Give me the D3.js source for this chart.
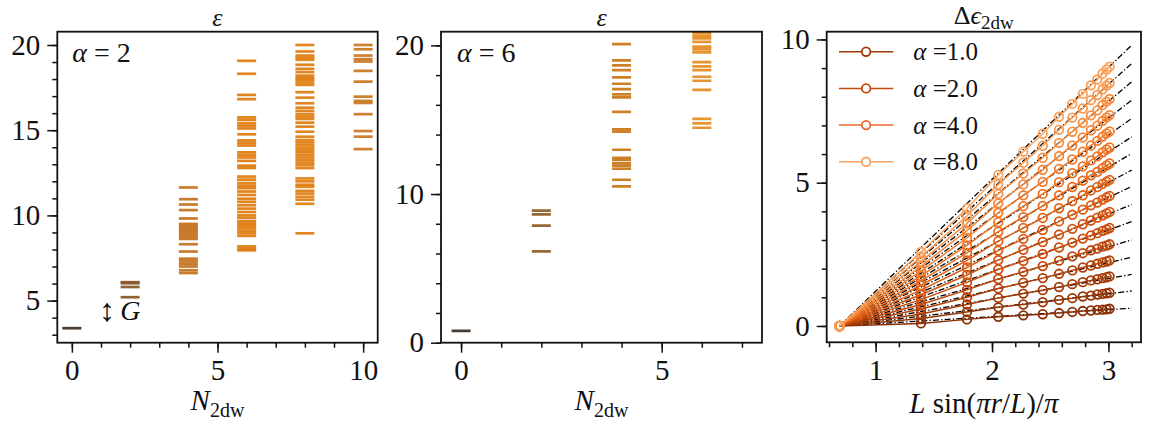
<!DOCTYPE html>
<html>
<head>
<meta charset="utf-8">
<script src="https://cdnjs.cloudflare.com/ajax/libs/d3/7.8.5/d3.min.js"></script>
<style>
  body { margin: 0; background: #fff; }
  svg text { font-family: "Liberation Serif", "DejaVu Serif", serif; fill: #111; }
  .axis path { display: none; }
  .axis line { stroke: #111; stroke-width: 1.5; }
  .frame { fill: none; stroke: #111; stroke-width: 1.8; }
</style>
</head>
<body>
<svg id="chart" width="1151" height="427"></svg>
<script>
// ---- panel 1 : spectrum for alpha = 2, levels per domain-wall sector ----
var a2Sectors = [0, 2, 4, 6, 8, 10];
var a2n0 = [3.38];
var a2n2 = [6.08, 6.02, 5.80, 5.20];
var a2n4 = [11.64, 10.95, 10.64, 10.31, 9.82, 9.50, 9.38, 9.25, 9.12, 9.00, 8.88, 8.75, 8.62,
            8.31, 7.88, 7.46, 7.30, 7.15, 7.00, 6.78, 6.62];
var a2n6 = [19.07, 18.31, 17.07, 16.82, 15.75, 15.60, 15.40, 15.25, 15.10, 14.76, 14.40, 14.25,
            14.10, 13.70, 13.55, 13.40, 13.20, 12.92, 12.78, 12.28, 12.10, 11.90, 11.75, 11.60,
            11.40, 11.20, 10.98, 10.80, 10.60, 10.40, 10.20, 10.00, 9.85, 9.65, 9.52, 9.40, 9.25,
            9.10, 8.95, 8.80, 8.18, 8.05, 7.95];
var a2n8 = [20.00, 19.62, 19.38, 19.25, 19.13, 18.84, 18.60, 18.41, 18.20, 18.05, 17.95, 17.80,
            17.66, 17.23, 16.91, 16.58, 16.32, 16.13, 15.94, 15.80, 15.66, 15.44, 15.21, 14.91,
            14.62, 14.42, 14.28, 14.13, 13.98, 13.84, 13.70, 13.55, 13.40, 13.25, 13.10, 12.95,
            12.78, 12.17, 12.00, 11.80, 11.68, 11.44, 11.28, 11.09, 10.92, 10.68, 8.95];
var a2n10 = [20.00, 19.75, 19.38, 19.17, 19.03, 18.48, 17.85, 16.97, 16.72, 16.60, 15.94, 14.95,
             14.62, 13.89];
var a2Levels = [a2n0, a2n2, a2n4, a2n6, a2n8, a2n10];

// ---- panel 2 : spectrum for alpha = 6 ----
var a6Sectors = [0, 2, 4, 6];
var a6n0 = [0.80];
var a6n2 = [8.88, 8.63, 7.87, 6.14];
var a6n4 = [20.09, 18.99, 18.65, 18.34, 17.85, 17.42, 17.06, 16.70, 16.50, 15.53, 14.35, 14.19,
            12.98, 12.44, 12.29, 12.06, 11.90, 11.70, 10.96, 10.52];
var a6n6 = [20.81, 20.63, 20.47, 20.24, 19.91, 19.73, 19.53, 18.88, 18.59, 18.34, 17.89, 17.62,
            17.01, 15.06, 14.75, 14.46];
var a6Levels = [a6n0, a6n2, a6n4, a6n6];

// ---- panel 3 : two domain wall energy vs chord length ----
var chordX = [0.69, 1.39, 1.785, 2.054, 2.269, 2.436, 2.576, 2.69, 2.78, 2.85, 2.905, 2.95, 2.985, 3.01];
var deltaE = [
  [0, 0.09, 0.23, 0.32, 0.37, 0.41, 0.45, 0.49, 0.52, 0.54, 0.56, 0.57, 0.58, 0.60],
  [0, 0.26, 0.49, 0.65, 0.75, 0.83, 0.91, 0.97, 1.03, 1.06, 1.10, 1.12, 1.14, 1.16],
  [0, 0.42, 0.75, 0.98, 1.13, 1.25, 1.36, 1.46, 1.53, 1.59, 1.63, 1.67, 1.70, 1.73],
  [0, 0.59, 1.00, 1.31, 1.51, 1.67, 1.82, 1.94, 2.04, 2.11, 2.17, 2.22, 2.25, 2.29],
  [0, 0.75, 1.26, 1.64, 1.89, 2.09, 2.28, 2.43, 2.54, 2.64, 2.70, 2.77, 2.81, 2.85],
  [0, 0.92, 1.52, 1.97, 2.27, 2.51, 2.74, 2.91, 3.05, 3.16, 3.24, 3.32, 3.37, 3.42],
  [0, 1.09, 1.78, 2.30, 2.66, 2.93, 3.19, 3.39, 3.55, 3.68, 3.78, 3.86, 3.93, 3.98],
  [0, 1.25, 2.04, 2.63, 3.04, 3.35, 3.65, 3.88, 4.06, 4.21, 4.31, 4.41, 4.49, 4.54],
  [0, 1.42, 2.29, 2.96, 3.42, 3.77, 4.11, 4.36, 4.56, 4.73, 4.85, 4.96, 5.04, 5.10],
  [0, 1.58, 2.55, 3.29, 3.80, 4.19, 4.56, 4.85, 5.07, 5.26, 5.38, 5.51, 5.60, 5.67],
  [0, 1.75, 2.81, 3.62, 4.18, 4.61, 5.02, 5.33, 5.57, 5.78, 5.92, 6.06, 6.16, 6.23],
  [0, 1.92, 3.07, 3.95, 4.56, 5.03, 5.48, 5.81, 6.08, 6.30, 6.46, 6.61, 6.72, 6.79],
  [0, 2.08, 3.33, 4.28, 4.94, 5.45, 5.93, 6.30, 6.58, 6.83, 6.99, 7.16, 7.28, 7.36],
  [0, 2.25, 3.58, 4.61, 5.32, 5.87, 6.39, 6.78, 7.09, 7.35, 7.53, 7.71, 7.83, 7.92],
  [0, 2.41, 3.84, 4.94, 5.70, 6.29, 6.85, 7.27, 7.59, 7.88, 8.06, 8.26, 8.39, 8.48],
  [0, 2.58, 4.10, 5.27, 6.08, 6.71, 7.30, 7.75, 8.10, 8.40, 8.60, 8.81, 8.95, 9.05]
];
// linear fits: from (fitFromX, 0) to (fitToX, fitEnd[k])
var fitFromX = 0.69;
var fitToX = 3.2;
var fitEnd = [0.62, 1.22, 1.80, 2.40, 3.00, 3.64, 4.24, 4.87, 5.44, 6.02, 6.60, 7.24, 7.88, 8.52, 9.16, 9.80];
var legendAlpha = ["1.0", "2.0", "4.0", "8.0"];

// ---- styles ----
var a2Colors = ["#3a2a1e", "#875626", "#c3701a", "#df7b0b", "#df7c0f", "#c87520"];
var a6Colors = ["#3a2a1e", "#8d5a24", "#c97515", "#e58a1f"];
var lineColor = d3.scaleLinear().domain([0, 5, 10, 15])
  .range(["#8a3007", "#cc4c0b", "#ee7424", "#fba35c"]);
var legendColors = ["#a03a0a", "#c44a0f", "#e8692a", "#f9a264"];

var svg = d3.select("#chart");
var tickFont = 29;

function drawAxes(g, x, y, w, h, o) {
  g.append("g").attr("class", "axis").attr("transform", "translate(0," + h + ")")
    .call(d3.axisBottom(x).tickValues(o.xMinor).tickSize(5).tickFormat(""));
  g.append("g").attr("class", "axis").attr("transform", "translate(0," + h + ")")
    .call(d3.axisBottom(x).tickValues(o.xMajor).tickSize(10).tickPadding(7).tickFormat(d3.format("d")))
    .selectAll("text").attr("font-size", tickFont).attr("fill", "#111");
  g.append("g").attr("class", "axis")
    .call(d3.axisLeft(y).tickValues(o.yMinor).tickSize(5).tickFormat(""));
  g.append("g").attr("class", "axis")
    .call(d3.axisLeft(y).tickValues(o.yMajor).tickSize(10).tickPadding(7).tickFormat(d3.format("d")))
    .selectAll("text").attr("font-size", tickFont).attr("fill", "#111");
  g.selectAll(".axis text").attr("font-family", null);
  g.append("rect").attr("class", "frame").attr("width", w).attr("height", h);
}

function xLabelN(g, w) {
  var t = g.append("text").attr("x", w / 2).attr("y", 378).attr("text-anchor", "middle")
    .attr("font-size", 29);
  t.append("tspan").attr("font-style", "italic").text("N");
  t.append("tspan").attr("font-size", 20).attr("dy", 7).text("2dw");
}

function drawTitle(g, w) {
  g.append("text").attr("x", w / 2).attr("y", -6).attr("text-anchor", "middle")
    .attr("font-size", 26).attr("font-style", "italic").text("ε");
}

function drawLevels(g, x, y, sectors, levels, colors) {
  sectors.forEach(function (n, i) {
    g.append("g").selectAll("line")
      .data(levels[i]).enter().append("line")
      .attr("x1", x(n) - 9.5).attr("x2", x(n) + 9.5)
      .attr("y1", function (d) { return y(d); })
      .attr("y2", function (d) { return y(d); })
      .attr("stroke", colors[i])
      .attr("stroke-width", 2.7)
      .attr("stroke-opacity", 0.92);
  });
}

// ---------- panel 1 ----------
var p1 = {left: 57.3, top: 31.7, w: 320.4, h: 311};
var g1 = svg.append("g").attr("transform", "translate(" + p1.left + "," + p1.top + ")");
var x1 = d3.scaleLinear().domain([-0.5, 10.5]).range([0, p1.w]);
var y1 = d3.scaleLinear().domain([2.53, 20.78]).range([p1.h, 0]);
drawLevels(g1, x1, y1, a2Sectors, a2Levels, a2Colors);
drawAxes(g1, x1, y1, p1.w, p1.h, {
  xMajor: [0, 5, 10], xMinor: d3.range(0, 11, 1),
  yMajor: [5, 10, 15, 20], yMinor: d3.range(3, 21, 1)
});
drawTitle(g1, p1.w);
var lab1 = g1.append("text").attr("x", 15).attr("y", 30).attr("font-size", 28);
lab1.append("tspan").attr("font-style", "italic").text("α");
lab1.append("tspan").text(" = 2");
g1.append("text").attr("x", 42).attr("y", 289).attr("font-size", 32)
  .attr("font-family", "DejaVu Sans").text("↕");
g1.append("text").attr("x", 63).attr("y", 288).attr("font-size", 28)
  .attr("font-style", "italic").text("G");
xLabelN(g1, p1.w);

// ---------- panel 2 ----------
var p2 = {left: 441, top: 31.7, w: 321, h: 311};
var g2 = svg.append("g").attr("transform", "translate(" + p2.left + "," + p2.top + ")");
var x2 = d3.scaleLinear().domain([-0.5, 7.5]).range([0, p2.w]);
var y2 = d3.scaleLinear().domain([0, 20.92]).range([p2.h, 0]);
g2.append("clipPath").attr("id", "clip2").append("rect").attr("width", p2.w).attr("height", p2.h);
drawLevels(g2.append("g").attr("clip-path", "url(#clip2)"), x2, y2, a6Sectors, a6Levels, a6Colors);
drawAxes(g2, x2, y2, p2.w, p2.h, {
  xMajor: [0, 5], xMinor: d3.range(0, 8, 1),
  yMajor: [0, 10, 20], yMinor: d3.range(0, 21, 2)
});
drawTitle(g2, p2.w);
var lab2 = g2.append("text").attr("x", 16).attr("y", 30).attr("font-size", 28);
lab2.append("tspan").attr("font-style", "italic").text("α");
lab2.append("tspan").text(" = 6");
xLabelN(g2, p2.w);

// ---------- panel 3 ----------
var p3 = {left: 826.7, top: 31.7, w: 314.3, h: 310.6};
var g3 = svg.append("g").attr("transform", "translate(" + p3.left + "," + p3.top + ")");
var x3 = d3.scaleLinear().domain([0.58, 3.28]).range([0, p3.w]);
var y3 = d3.scaleLinear().domain([-0.57, 10.27]).range([p3.h, 0]);

// fits go underneath, visible where they leave the data
g3.append("g").selectAll("line")
  .data(fitEnd).enter().append("line")
  .attr("x1", x3(fitFromX)).attr("y1", y3(0))
  .attr("x2", x3(fitToX)).attr("y2", function (d) { return y3(d); })
  .attr("stroke", "#000").attr("stroke-width", 1.3)
  .attr("stroke-dasharray", "6,2.2,1.3,2.2");

var line3 = d3.line()
  .x(function (d, i) { return x3(chordX[i]); })
  .y(function (d) { return y3(d); });

deltaE.forEach(function (row, k) {
  var c = lineColor(k);
  g3.append("path").attr("d", line3(row))
    .attr("fill", "none").attr("stroke", c).attr("stroke-width", 1.5);
  g3.append("g").selectAll("circle")
    .data(row).enter().append("circle")
    .attr("cx", function (d, i) { return x3(chordX[i]); })
    .attr("cy", function (d) { return y3(d); })
    .attr("r", 4.3)
    .attr("fill", "none").attr("stroke", c).attr("stroke-width", 1.8);
});

drawAxes(g3, x3, y3, p3.w, p3.h, {
  xMajor: [1, 2, 3], xMinor: d3.range(6, 33, 2).map(function (d) { return d / 10; }),
  yMajor: [0, 5, 10], yMinor: d3.range(0, 11, 1)
});

// legend
var leg = g3.append("g").attr("transform", "translate(0,20)");
legendAlpha.forEach(function (a, i) {
  var r = leg.append("g").attr("transform", "translate(0," + i * 36.7 + ")");
  r.append("line").attr("x1", 12.3).attr("x2", 66.6)
    .attr("stroke", legendColors[i]).attr("stroke-width", 1.5);
  r.append("circle").attr("cx", 39.4).attr("r", 4.3)
    .attr("fill", "#fff").attr("stroke", legendColors[i]).attr("stroke-width", 1.8);
  var t = r.append("text").attr("x", 86.6).attr("y", 8.5).attr("font-size", 25);
  t.append("tspan").attr("font-style", "italic").text("α");
  t.append("tspan").text(" =" + a);
});

var ttl3 = g3.append("text").attr("x", p3.w / 2).attr("y", -8).attr("text-anchor", "middle")
  .attr("font-size", 26);
ttl3.append("tspan").text("Δ");
ttl3.append("tspan").attr("font-style", "italic").text("ϵ");
ttl3.append("tspan").attr("font-size", 19).attr("dy", 5).text("2dw");

var xl3 = g3.append("text").attr("x", p3.w / 2).attr("y", 381).attr("text-anchor", "middle")
  .attr("font-size", 29);
xl3.append("tspan").attr("font-style", "italic").text("L");
xl3.append("tspan").text(" sin(");
xl3.append("tspan").attr("font-style", "italic").text("πr");
xl3.append("tspan").text("/");
xl3.append("tspan").attr("font-style", "italic").text("L");
xl3.append("tspan").text(")/");
xl3.append("tspan").attr("font-style", "italic").text("π");
</script>
</body>
</html>
